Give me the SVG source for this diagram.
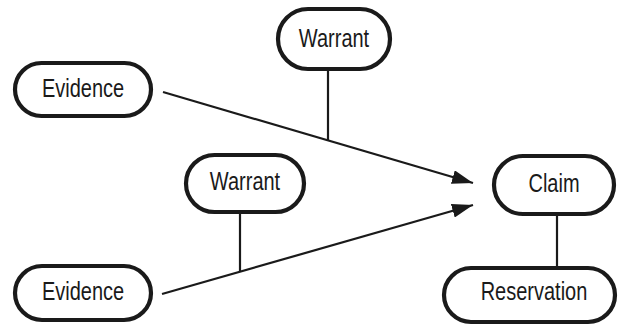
<svg xmlns="http://www.w3.org/2000/svg" width="619" height="327" viewBox="0 0 619 327">
<style>
.box{fill:#fff;stroke:#1a1a1a;stroke-width:4.2}
.lbl{font-family:"Liberation Sans Narrow","Liberation Sans",Arial,sans-serif;font-size:25px;fill:#1a1a1a;text-anchor:middle}
.ln{stroke:#1a1a1a;stroke-width:2.2;fill:none}
</style>
<defs>
<marker id="ah" viewBox="0 0 21 14" refX="21" refY="7" markerWidth="21" markerHeight="14" markerUnits="userSpaceOnUse" orient="auto">
<path d="M0,0 L21,7 L0,14 Z" fill="#1a1a1a"/>
</marker>
</defs>
<g id="connectors">
<line class="ln" x1="163" y1="92" x2="473" y2="183" marker-end="url(#ah)"/>
<line class="ln" x1="162" y1="294" x2="473" y2="205" marker-end="url(#ah)"/>
<line class="ln" x1="328" y1="69" x2="328" y2="141"/>
<line class="ln" x1="240" y1="212" x2="240" y2="272"/>
<line class="ln" x1="557" y1="214" x2="557" y2="268"/>
</g>
<g id="evidence1"><rect class="box" x="15" y="63" width="136" height="53" rx="26.5"/><text class="lbl" transform="translate(83,97) scale(0.8,1)">Evidence</text></g>
<g id="warrant1"><rect class="box" x="278" y="9" width="112" height="60" rx="30"/><text class="lbl" transform="translate(334,47) scale(0.8,1)">Warrant</text></g>
<g id="warrant2"><rect class="box" x="186" y="155" width="118" height="57" rx="28.5"/><text class="lbl" transform="translate(245,190) scale(0.8,1)">Warrant</text></g>
<g id="claim"><rect class="box" x="494" y="156" width="120" height="58" rx="29"/><text class="lbl" transform="translate(554,192) scale(0.8,1)">Claim</text></g>
<g id="evidence2"><rect class="box" x="15" y="266" width="136" height="54" rx="27"/><text class="lbl" transform="translate(83,300) scale(0.8,1)">Evidence</text></g>
<g id="reservation"><rect class="box" x="444" y="268" width="171" height="54" rx="27"/><text class="lbl" transform="translate(534,300) scale(0.8,1)">Reservation</text></g>
</svg>
